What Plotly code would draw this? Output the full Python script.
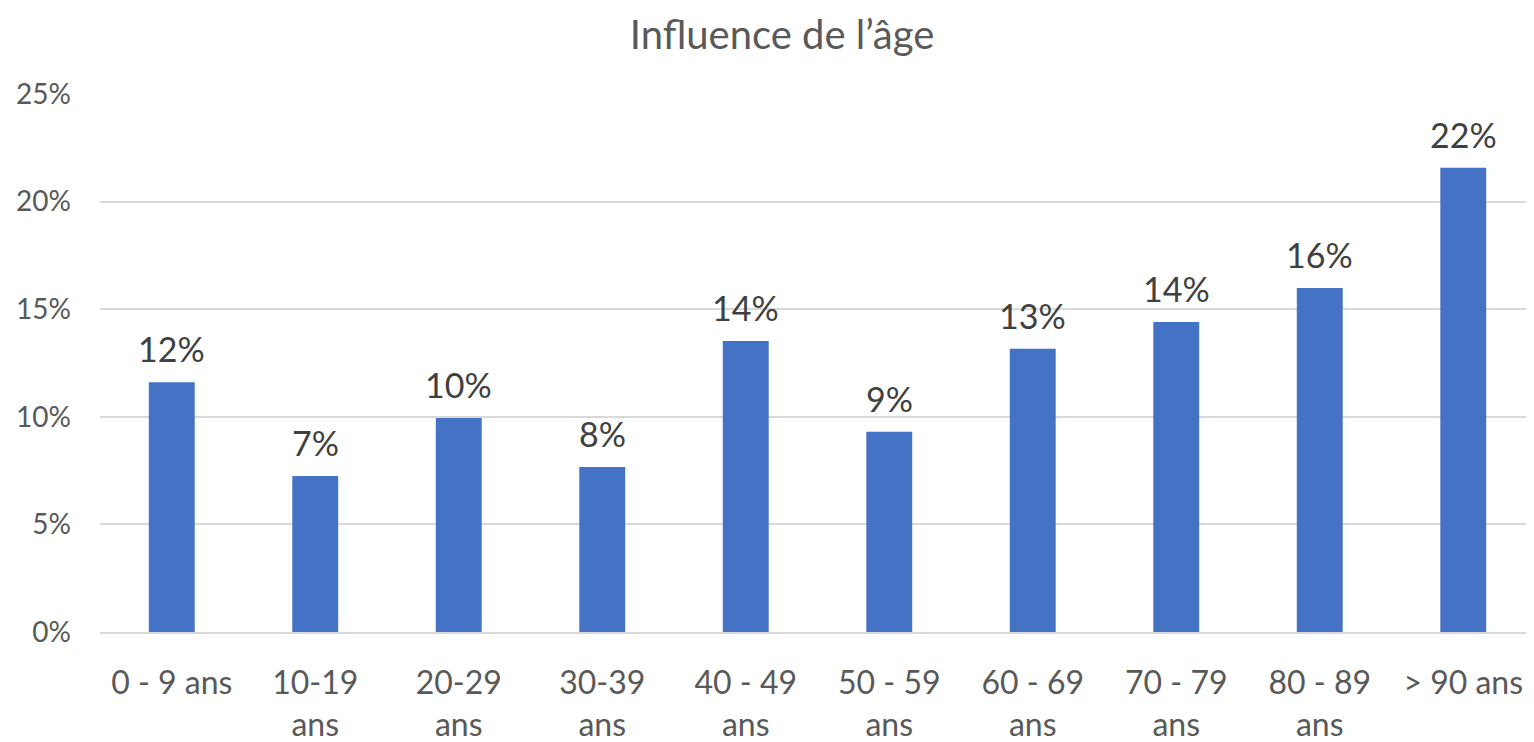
import plotly.graph_objects as go

categories = ["0 - 9 ans", "10-19<br>ans", "20-29<br>ans", "30-39<br>ans", "40 - 49<br>ans",
              "50 - 59<br>ans", "60 - 69<br>ans", "70 - 79<br>ans", "80 - 89<br>ans", "> 90 ans"]
values = [0.116, 0.0725, 0.0995, 0.0767, 0.1352, 0.093, 0.1316, 0.1441, 0.1598, 0.2157]
tick_vals = [0, 0.05, 0.10, 0.15, 0.20, 0.25]
tick_text = ["0%", "5%", "10%", "15%", "20%", "25%"]

FONT = "Lato"
fig = go.Figure()
fig.add_trace(go.Bar(x=categories, y=values, marker_color="#4472C4",
                     marker_line_width=0, hoverinfo="skip"))

for c, v in zip(categories, values):
    fig.add_annotation(x=c, y=v, text=f"{round(v*100)}%", showarrow=False,
                       yanchor="bottom", yshift=11,
                       font=dict(family=FONT, size=34, color="#404040"))

W, H = 1527, 734
fig.update_layout(
    width=W, height=H,
    paper_bgcolor="white", plot_bgcolor="white",
    margin=dict(l=92, r=0, t=86, b=110, autoexpand=False),
    bargap=0.68,
    showlegend=False,
    title=dict(text="Influence de l’âge", x=(782 - 8) / W, xref="container", xanchor="center",
               y=1 - 27 / H, yref="container", yanchor="middle",
               font=dict(family=FONT, size=40, color="#595959")),
    font=dict(family=FONT, size=34, color="#595959"),
)
fig.update_yaxes(range=[0, 0.25], tickvals=tick_vals, ticktext=tick_text,
                 showgrid=True, gridcolor="#D9D9D9", gridwidth=2,
                 zeroline=False, showline=False, ticks="", ticklabelstandoff=28,
                 tickfont=dict(family=FONT, size=28, color="#595959"))
fig.update_xaxes(showline=True, linecolor="#D9D9D9", linewidth=2, ticks="",
                 ticklabelstandoff=22,
                 tickfont=dict(family=FONT, size=32, color="#595959"), tickangle=0)

fig.write_html("out.html")
